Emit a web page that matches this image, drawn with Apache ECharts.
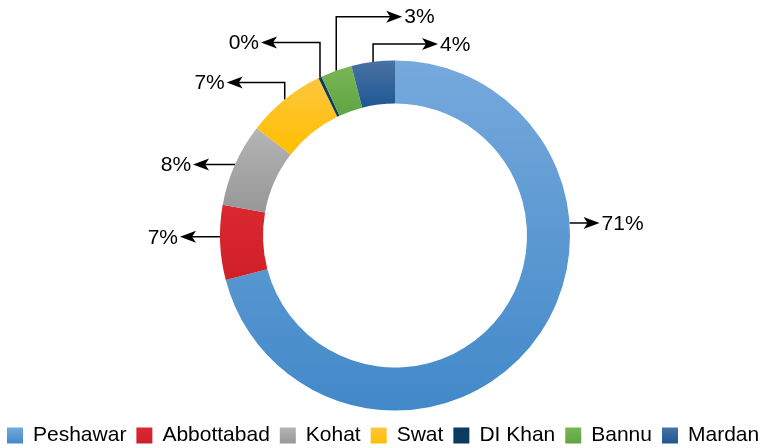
<!DOCTYPE html>
<html>
<head>
<meta charset="utf-8">
<script src="https://cdn.jsdelivr.net/npm/echarts@6/dist/echarts.min.js"></script>
<style>
  html, body { margin: 0; padding: 0; background: #fff; }
  #chart { width: 764px; height: 448px; }
</style>
</head>
<body>
<div id="chart"></div>
<script>
// district shares of the total (percent), clockwise from 12 o'clock
const districts = ['Peshawar', 'Abbottabad', 'Kohat', 'Swat', 'DI Khan', 'Bannu', 'Mardan'];
const shares = [70.9, 6.9, 7.7, 7.3, 0.3, 2.9, 4.0];

// gradient stops per slice (top -> bottom)
const colorTop = ['#76a9dc', '#da2830', '#b4b4b4', '#fcc63e', '#0c3b60', '#79b653', '#4a72a4'];
const colorBottom = ['#4289c9', '#cf2027', '#979797', '#ffbf00', '#0c3b60', '#5fa543', '#1d5894'];

// callout layout: which side, vertical rise, horizontal run, optional anchor angle
const labelSide = ['right', 'left', 'left', 'left', 'left', 'right', 'right'];
const labelRise = [0, 0, 0, 17, 35, 54, 18];
const labelRun = [30, 40, 42, 58, 59, 66, 65];
const labelAnchorDeg = [85.9, 269.6, null, null, null, null, null];

const CX = 395, CY = 235.5, R_IN = 132, R_OUT = 175;

const total = shares.reduce((a, b) => a + b, 0);
const midDeg = [];
let acc = 0;
shares.forEach((v) => {
  const span = v / total * 360;
  midDeg.push(acc + span / 2);
  acc += span;
});

// anchor on the outer edge, bend, tip of the arrow
function callout(i) {
  const deg = labelAnchorDeg[i] != null ? labelAnchorDeg[i] : midDeg[i];
  const rad = deg * Math.PI / 180;
  const ax = CX + R_OUT * Math.sin(rad);
  const ay = CY - R_OUT * Math.cos(rad);
  const d = labelSide[i] === 'right' ? 1 : -1;
  const by = ay - labelRise[i];
  return { d, anchor: [ax, ay], bend: [ax, by], tip: [ax + d * labelRun[i], by] };
}

const arrows = districts.map((_, i) => {
  const c = callout(i);
  const [tx, ty] = c.tip;
  return {
    type: 'polygon',
    silent: true,
    shape: { points: [[tx, ty], [tx - c.d * 16, ty - 6], [tx - c.d * 12, ty], [tx - c.d * 16, ty + 6]] },
    style: { fill: '#000' },
    z: 100
  };
});

const chart = echarts.init(document.getElementById('chart'), null, { renderer: 'canvas' });
chart.setOption({
  animation: false,
  backgroundColor: '#fff',
  textStyle: { fontFamily: 'Liberation Sans, Arial, sans-serif' },
  legend: {
    left: 7,
    top: 425,
    width: 800,
    padding: 0,
    itemWidth: 16,
    itemHeight: 16,
    itemGap: 10,
    icon: 'rect',
    textStyle: { fontSize: 21, color: '#000', padding: [0, 0, 0, 5] },
    data: districts
  },
  graphic: arrows,
  series: [{
    type: 'pie',
    center: [CX, CY],
    radius: [R_IN, R_OUT],
    startAngle: 90,
    clockwise: true,
    avoidLabelOverlap: false,
    data: districts.map((name, i) => ({
      name,
      value: shares[i],
      itemStyle: {
        color: new echarts.graphic.LinearGradient(0, 0, 0, 1, [
          { offset: 0, color: colorTop[i] },
          { offset: 1, color: colorBottom[i] }
        ])
      }
    })),
    label: {
      show: true,
      position: 'outside',
      formatter: (p) => Math.round(p.value) + '%',
      fontSize: 21,
      color: '#000'
    },
    labelLine: { show: true, lineStyle: { color: '#000', width: 1.5 } },
    labelLayout: (p) => {
      const c = callout(p.dataIndex);
      return {
        x: c.tip[0] + c.d * 2,
        y: c.tip[1] + 1,
        align: c.d > 0 ? 'left' : 'right',
        verticalAlign: 'middle',
        labelLinePoints: [c.anchor, c.bend, [c.tip[0] - c.d * 8, c.tip[1]]]
      };
    },
    emphasis: { disabled: true }
  }]
});
</script>
</body>
</html>
